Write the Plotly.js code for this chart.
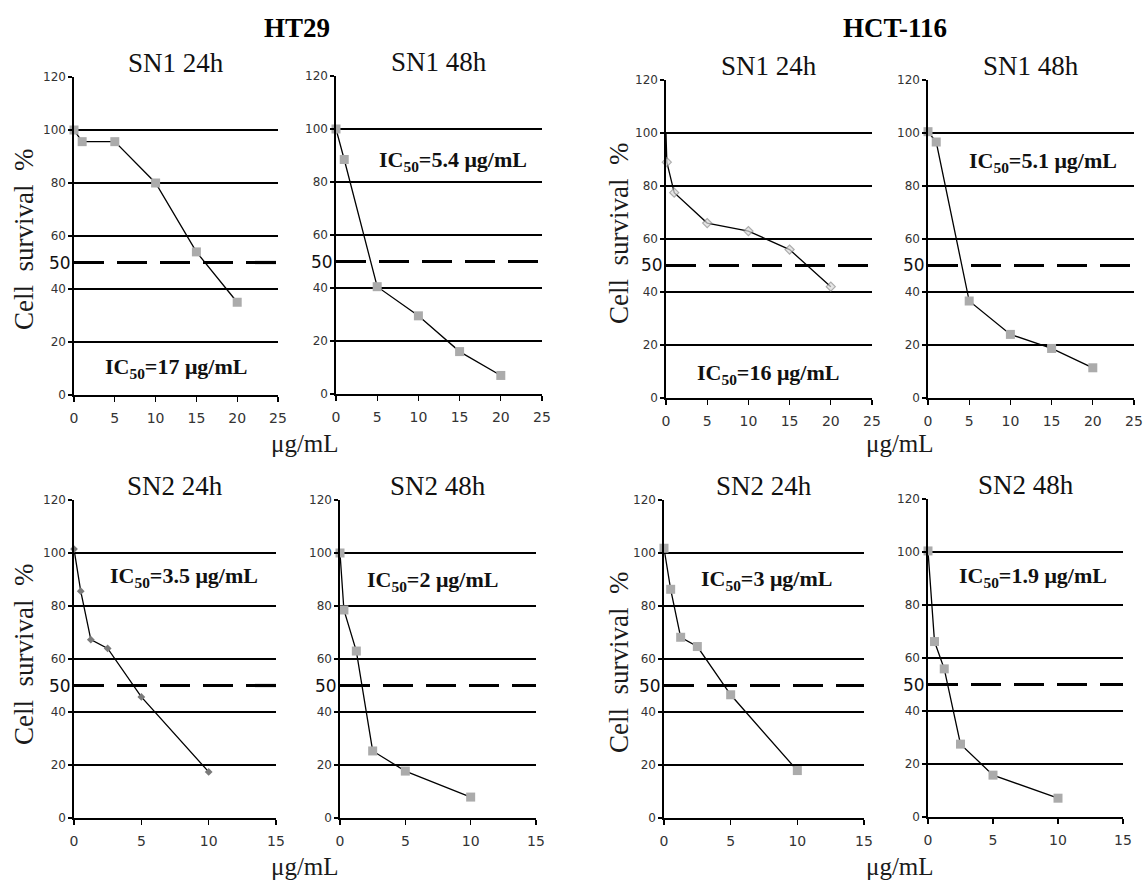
<!DOCTYPE html>
<html><head><meta charset="utf-8">
<script src="https://cdn.plot.ly/plotly-3.0.1.min.js"></script>
<style>html,body{margin:0;padding:0;background:#fff}</style>
</head><body><div id="chart" style="width:1146px;height:883px"></div>
<script>
// ---------- data ----------
const cellLines = ["HT29", "HCT-116"];
const panelTitles = ["SN1 24h", "SN1 48h", "SN1 24h", "SN1 48h", "SN2 24h", "SN2 48h", "SN2 24h", "SN2 48h"];
const ic50Labels = [
  "IC<sub>50</sub>=17 μg/mL", "IC<sub>50</sub>=5.4 μg/mL", "IC<sub>50</sub>=16 μg/mL", "IC<sub>50</sub>=5.1 μg/mL",
  "IC<sub>50</sub>=3.5 μg/mL", "IC<sub>50</sub>=2 μg/mL", "IC<sub>50</sub>=3 μg/mL", "IC<sub>50</sub>=1.9 μg/mL"
];
const yTitle = "Cell  survival  %";
const xTitle = "μg/mL";

const ht29_sn1_24h_x = [0, 1, 5, 10, 15, 20];
const ht29_sn1_24h_y = [100, 95.6, 95.6, 80, 54, 35];
const ht29_sn1_48h_x = [0, 1, 5, 10, 15, 20];
const ht29_sn1_48h_y = [100, 88.5, 40.5, 29.5, 16, 7];
const hct_sn1_24h_x = [0, 0.1, 1, 5, 10, 15, 20];
const hct_sn1_24h_y = [100, 89, 77.5, 66, 63, 56, 42];
const hct_sn1_48h_x = [0, 1, 5, 10, 15, 20];
const hct_sn1_48h_y = [100.5, 96.6, 36.6, 24, 18.7, 11.4];
const ht29_sn2_24h_x = [0, 0.5, 1.25, 2.5, 5, 10];
const ht29_sn2_24h_y = [101.5, 85.6, 67.3, 64, 45.7, 17.4];
const ht29_sn2_48h_x = [0, 0.3, 1.25, 2.5, 5, 10];
const ht29_sn2_48h_y = [100, 78.5, 63, 25.3, 17.7, 7.9];
const hct_sn2_24h_x = [0, 0.5, 1.25, 2.5, 5, 10];
const hct_sn2_24h_y = [101.8, 86.3, 68.2, 64.7, 46.5, 17.9];
const hct_sn2_48h_x = [0, 0.5, 1.25, 2.5, 5, 10];
const hct_sn2_48h_y = [100.4, 66.2, 55.9, 27.5, 15.8, 7.1];

const yTicks = [0, 20, 40, 60, 80, 100, 120];
const sn1XTicks = [0, 5, 10, 15, 20, 25];
const sn2XTicks = [0, 5, 10, 15];
const halfLine = 50;

// ---------- layout geometry (pixels) ----------
const W = 1146, H = 883;
const series = [
  [ht29_sn1_24h_x, ht29_sn1_24h_y], [ht29_sn1_48h_x, ht29_sn1_48h_y],
  [hct_sn1_24h_x, hct_sn1_24h_y], [hct_sn1_48h_x, hct_sn1_48h_y],
  [ht29_sn2_24h_x, ht29_sn2_24h_y], [ht29_sn2_48h_x, ht29_sn2_48h_y],
  [hct_sn2_24h_x, hct_sn2_24h_y], [hct_sn2_48h_x, hct_sn2_48h_y]
];
const geo = [
  {l: 74, r: 278, t: 77, b: 395}, {l: 336, r: 542, t: 76, b: 394},
  {l: 666, r: 872, t: 80, b: 398}, {l: 928, r: 1134, t: 80, b: 398},
  {l: 74, r: 276, t: 500, b: 818}, {l: 340, r: 536, t: 500, b: 818},
  {l: 664, r: 864, t: 500, b: 818}, {l: 928, r: 1123, t: 499, b: 817}
];
const icPos = [[12.5, 10.2], [14.2, 87.8], [12.4, 9.1], [14.0, 89], [8.2, 90.8], [7.1, 89.6], [7.7, 90], [8.1, 90.5]];

const squareMarker = {symbol: 'square', size: 9, color: '#ababab', line: {width: 0}};
const markers = [
  squareMarker, squareMarker,
  {symbol: 'diamond', size: [0, 7, 7, 7, 7, 7, 7], color: '#dcdcdc', line: {color: '#8a8a8a', width: 1.2}},
  squareMarker,
  {symbol: 'diamond', size: 6, color: '#7a7a7a', line: {width: 0}},
  squareMarker, squareMarker, squareMarker
];

const serif = 'Liberation Serif, Times New Roman, serif';
const sans = 'DejaVu Sans, Verdana, sans-serif';

const data = [];
const layout = {
  width: W, height: H, margin: {l: 0, r: 0, t: 0, b: 0, pad: 0},
  paper_bgcolor: '#fff', plot_bgcolor: 'rgba(0,0,0,0)',
  showlegend: false, annotations: [], shapes: []
};

series.forEach((s, i) => {
  const n = i === 0 ? '' : String(i + 1);
  const g = geo[i];
  const top = i < 4;
  data.push({
    x: s[0], y: s[1], xaxis: 'x' + n, yaxis: 'y' + n, type: 'scatter',
    mode: 'lines+markers', line: {color: '#000', width: 1.3},
    marker: markers[i], cliponaxis: false, hoverinfo: 'skip'
  });
  layout['xaxis' + n] = {
    domain: [g.l / W, g.r / W], anchor: 'y' + n,
    range: [0, top ? 25 : 15], tickmode: 'array', tickvals: top ? sn1XTicks : sn2XTicks,
    ticks: 'outside', ticklen: 5, tickcolor: '#000', tickwidth: 1.3,
    showline: true, linecolor: '#000', linewidth: 1.6,
    showgrid: false, zeroline: false, ticklabelstandoff: 5,
    tickfont: {family: sans, size: 14, color: '#333'}, fixedrange: true
  };
  layout['yaxis' + n] = {
    domain: [1 - g.b / H, 1 - g.t / H], anchor: 'x' + n,
    range: [0, 120], tickmode: 'array', tickvals: yTicks,
    ticks: 'outside', ticklen: 4, tickcolor: '#000', tickwidth: 1.3,
    showline: true, linecolor: '#000', linewidth: 1.6,
    showgrid: true, gridcolor: '#000', gridwidth: 1.5, zeroline: false,
    tickfont: {family: sans, size: 12, color: '#333'}, fixedrange: true
  };
  layout.shapes.push({
    type: 'line', xref: 'x' + n + ' domain', yref: 'y' + n,
    x0: 0, x1: 1, y0: halfLine, y1: halfLine, layer: 'below',
    line: {color: '#000', width: 3.2, dash: '30px,13px'}
  });
  layout.annotations.push({
    xref: 'x' + n + ' domain', yref: 'y' + n, x: 0, y: halfLine,
    xanchor: 'right', yanchor: 'middle', xshift: -1, showarrow: false,
    text: String(halfLine), font: {family: sans, size: 17, color: '#111'}
  });
  layout.annotations.push({
    xref: 'x' + n + ' domain', yref: 'y' + n + ' domain', x: 0.5, y: 1,
    xanchor: 'center', yanchor: 'bottom', yshift: -3, showarrow: false,
    text: panelTitles[i], font: {family: serif, size: 27, color: '#111'}
  });
  layout.annotations.push({
    xref: 'x' + n, yref: 'y' + n, x: icPos[i][0], y: icPos[i][1],
    xanchor: 'center', yanchor: 'middle', showarrow: false,
    text: '<b>' + ic50Labels[i] + '</b>', font: {family: serif, size: 22, color: '#111'}
  });
});

// cell line headers
[[297, 28], [895, 28]].forEach((p, k) => {
  layout.annotations.push({
    xref: 'paper', yref: 'paper', x: p[0] / W, y: 1 - p[1] / H,
    xanchor: 'center', yanchor: 'middle', showarrow: false,
    text: '<b>' + cellLines[k] + '</b>', font: {family: serif, size: 27, color: '#000'}
  });
});
// y titles
[[24, 240], [24, 655], [619, 233], [619, 662]].forEach(p => {
  layout.annotations.push({
    xref: 'paper', yref: 'paper', x: p[0] / W, y: 1 - p[1] / H,
    xanchor: 'center', yanchor: 'middle', showarrow: false, textangle: -90,
    text: yTitle, font: {family: serif, size: 27, color: '#1a1a1a'}
  });
});
// x titles
[[305, 443], [305, 866], [900, 443], [900, 866]].forEach(p => {
  layout.annotations.push({
    xref: 'paper', yref: 'paper', x: p[0] / W, y: 1 - p[1] / H,
    xanchor: 'center', yanchor: 'middle', showarrow: false,
    text: xTitle, font: {family: serif, size: 25, color: '#1a1a1a'}
  });
});

Plotly.newPlot('chart', data, layout, {staticPlot: true, displayModeBar: false});
</script></body></html>
